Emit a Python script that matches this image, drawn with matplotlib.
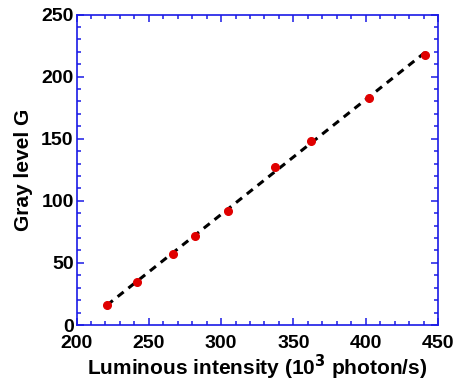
import numpy as np
import matplotlib.pyplot as plt
from matplotlib.ticker import MultipleLocator

plt.rcParams['font.family'] = ['Liberation Sans', 'DejaVu Sans']
plt.rcParams['font.weight'] = 'bold'

# data
intensity = [221, 242, 267, 282, 305, 337, 362, 402.5, 441]
gray = [16, 35, 57, 72, 92, 127.5, 148.5, 183, 217.5]

blue = '#1a1ae6'

fig = plt.figure(figsize=(4.53, 3.83), dpi=100)
ax = fig.add_axes([76.5/453, 1 - 325/383, (438 - 76.5)/453, (325 - 14.5)/383])

# linear fit
k, b = np.polyfit(intensity, gray, 1)
xf = np.array([intensity[0], intensity[-1]])
ax.plot(xf, k*xf + b, '--', color='black', lw=2.2, dashes=(2.5, 2))
ax.plot(intensity, gray, 'o', color='#e00000', ms=5.5, mec='#e00000')

ax.set_xlim(200, 450)
ax.set_ylim(0, 250)
ax.xaxis.set_major_locator(MultipleLocator(50))
ax.xaxis.set_minor_locator(MultipleLocator(10))
ax.yaxis.set_major_locator(MultipleLocator(50))
ax.yaxis.set_minor_locator(MultipleLocator(10))

for s in ax.spines.values():
    s.set_color(blue)
    s.set_linewidth(1.2)
ax.tick_params(which='both', direction='in', top=True, right=True, color=blue,
               labelsize=14, labelcolor='black', width=1.1)
ax.tick_params(which='major', length=5)
ax.tick_params(axis='x', which='major', pad=7)
ax.tick_params(axis='y', which='major', pad=2)
ax.tick_params(which='minor', length=3)
for lab in ax.get_xticklabels() + ax.get_yticklabels():
    lab.set_fontweight('bold')

ax.set_xlabel('Luminous intensity (10$^\\mathbf{3}$ photon/s)', fontsize=15, fontweight='bold')
ax.xaxis.label.set_va('baseline')
ax.xaxis.set_label_coords(0.5, -50/310.5)
ax.set_ylabel('Gray level G', fontsize=15, fontweight='bold')
ax.yaxis.label.set_va('center')
ax.yaxis.set_label_coords(-53/361.5, 0.5)

fig.savefig('out.png', dpi=100)
